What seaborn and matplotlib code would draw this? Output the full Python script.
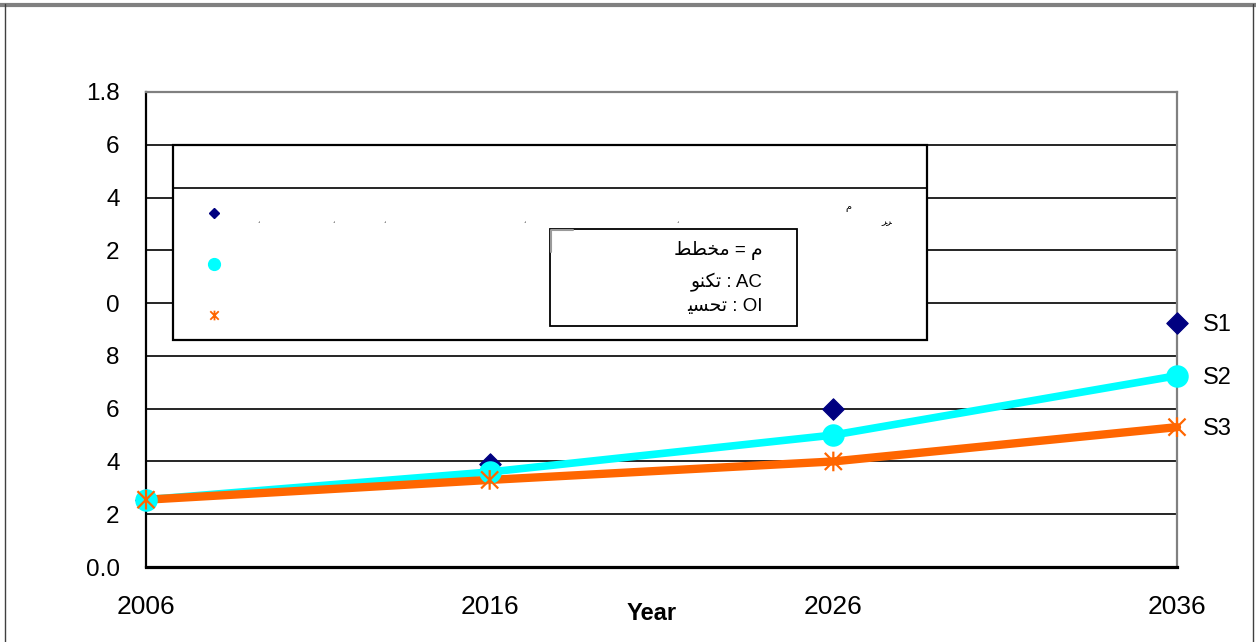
import matplotlib
matplotlib.use("Agg")
import matplotlib.pyplot as plt
from matplotlib.path import Path
from matplotlib.lines import Line2D
from matplotlib.patches import Rectangle
import seaborn as sns

# ---- data -------------------------------------------------------------
years = [2006, 2016, 2026, 2036]
s1 = [0.255, 0.39, 0.60, 0.925]
s2 = [0.255, 0.36, 0.50, 0.725]
s3 = [0.255, 0.33, 0.40, 0.53]
series_names = ["S1", "S2", "S3"]

y_ticks = [0.0, 0.2, 0.4, 0.6, 0.8, 1.0, 1.2, 1.4, 1.6, 1.8]
y_tick_labels = ["0.0", "2", "4", "6", "8", "0", "2", "4", "6", "1.8"]
x_tick_labels = ["2006", "2016", "2026", "2036"]
x_title = "Year"

# key text (Arabic written in shaped presentation forms, visual order)
key_lines = [
    "\uFEC2\uFEC4\uFEA8\uFEE3 = \uFEE1",   # م = مخطط
    "\uFEEE\uFEE8\uFEDC\uFE97 : AC",        # AC : تكنو
    "\uFEF4\uFEB4\uFEA4\uFE97 : OI",        # OI : تحسي
]

# ---- style ------------------------------------------------------------
sns.set_style("white")
plt.rcParams["font.family"] = ["Liberation Sans", "DejaVu Sans"]
plt.rcParams["text.color"] = "black"
plt.rcParams["axes.labelcolor"] = "black"
plt.rcParams["xtick.color"] = "black"
plt.rcParams["ytick.color"] = "black"

NAVY = "#000080"
CYAN = "#00FFFF"
ORANGE = "#FF6600"
GREY = "#808080"

W, H = 1256, 642
fig = plt.figure(figsize=(W / 100, H / 100), dpi=100)
fig.patch.set_facecolor("white")


def fx(px):
    return px / W


def fy(py):
    return 1 - py / H


ax = fig.add_axes([fx(146), fy(567), fx(1177) - fx(146), fy(92) - fy(567)])
ax.set_facecolor("white")

# asterisk marker: an X with a vertical bar
star = Path(
    [(-1, -1), (1, 1), (-1, 1), (1, -1), (0, -1.15), (0, 1.15)],
    [Path.MOVETO, Path.LINETO, Path.MOVETO, Path.LINETO, Path.MOVETO, Path.LINETO],
)

# S1 markers sit underneath the lines
sns.scatterplot(x=years, y=s1, marker="D", s=118, color=NAVY,
                edgecolor=NAVY, ax=ax, zorder=3.5, clip_on=False)

# lines (S1 is markers only)
sns.lineplot(x=years, y=s2, color=CYAN, linewidth=5.5, ax=ax, zorder=4,
             clip_on=False, solid_capstyle="round")
sns.lineplot(x=years, y=s3, color=ORANGE, linewidth=6, ax=ax, zorder=5,
             clip_on=False, solid_capstyle="round")

# markers
sns.scatterplot(x=years, y=s2, marker="o", s=225, color=CYAN,
                edgecolor=CYAN, ax=ax, zorder=6, clip_on=False)
sns.scatterplot(x=years, y=s3, marker=star, s=200, facecolor="none",
                edgecolor=ORANGE, linewidths=1.6, ax=ax, zorder=7,
                clip_on=False)

# series names next to the last points
for name, vals in zip(series_names, [s1, s2, s3]):
    ax.annotate(name, xy=(years[-1], vals[-1]), xytext=(26, -2),
                textcoords="offset pixels", ha="left", va="center",
                fontsize=17, color="black", annotation_clip=False)

# axes
ax.set_xlim(years[0], years[-1])
ax.set_ylim(y_ticks[0], y_ticks[-1])
ax.set_xticks(years)
ax.set_xticklabels(x_tick_labels)
ax.set_yticks(y_ticks)
ax.set_yticklabels(y_tick_labels)
ax.tick_params(axis="x", direction="inout", length=12, width=1,
               color="black", labelcolor="black", labelsize=19, pad=14)
ax.tick_params(axis="y", direction="out", length=7, width=1.2,
               color="black", labelcolor="black", labelsize=17.5, pad=12)
ax.grid(axis="y", color="black", linewidth=1.2, zorder=1)
ax.grid(axis="x", visible=False)
ax.set_axisbelow(True)

ax.spines["left"].set_color("black")
ax.spines["left"].set_linewidth(1.6)
ax.spines["bottom"].set_color("black")
ax.spines["bottom"].set_linewidth(2.3)
ax.spines["top"].set_color(GREY)
ax.spines["top"].set_linewidth(1.6)
ax.spines["right"].set_color(GREY)
ax.spines["right"].set_linewidth(1.6)
for sp in ax.spines.values():
    sp.set_zorder(3)

ax.set_xlabel(x_title, fontsize=17, fontweight="bold", color="black")
ax.xaxis.set_label_coords((652 - 146) / 1031, -(602 - 567) / 475)
ax.set_ylabel("")

# ---- key box ----------------------------------------------------------
fig.add_artist(Rectangle((fx(173), fy(340)), fx(927) - fx(173), fy(145) - fy(340),
                         transform=fig.transFigure, facecolor="white",
                         edgecolor="black", linewidth=1.6, zorder=10))
fig.add_artist(Line2D([fx(173), fx(927)], [fy(188), fy(188)],
                      transform=fig.transFigure, color="black",
                      linewidth=1.2, zorder=11))

key_x = fx(214)
fig.add_artist(Line2D([key_x], [fy(213)], transform=fig.transFigure,
                      marker="D", markersize=5.5, color=NAVY, linestyle="none",
                      zorder=12))
fig.add_artist(Line2D([key_x], [fy(264)], transform=fig.transFigure,
                      marker="o", markersize=8.5, color=CYAN, linestyle="none",
                      zorder=12))
fig.add_artist(Line2D([key_x], [fy(315)], transform=fig.transFigure,
                      marker=star, markersize=7, color=ORANGE,
                      markeredgewidth=1.3, fillstyle="none", linestyle="none",
                      zorder=12))

# faint remnants of the key's first line
for px, ch in [(258, "\u060C"), (333, "\u060C"), (384, "\u060C"),
               (524, "\u060C"), (677, "\u060C")]:
    fig.text(fx(px), fy(222), ch, fontsize=5, color="#333333",
             ha="center", va="center", zorder=12)
fig.text(fx(848), fy(207), "\uFEE1", fontsize=7, color="black",
         ha="center", va="center", zorder=12,
         family=["DejaVu Sans"])
fig.text(fx(887), fy(221), "\uFEAE\uFEAE", fontsize=7, color="black",
         ha="center", va="center", zorder=12,
         family=["DejaVu Sans"])

# inner explanation box
fig.add_artist(Rectangle((fx(550), fy(326)), fx(797) - fx(550), fy(229) - fy(326),
                         transform=fig.transFigure, facecolor="white",
                         edgecolor="black", linewidth=1.3, zorder=12))
fig.add_artist(Line2D([fx(551), fx(551), fx(573)], [fy(252), fy(230), fy(230)],
                      transform=fig.transFigure, color="#9a9a9a",
                      linewidth=1.5, zorder=13))
for py, txt in zip([251, 282, 307], key_lines):
    fig.text(fx(763), fy(py), txt, fontsize=13.5, color="black",
             ha="right", va="center", zorder=13,
             family=["Liberation Sans", "DejaVu Sans"])

# ---- outer frame ------------------------------------------------------
fig.add_artist(Line2D([0, 1], [fy(4.5), fy(4.5)], transform=fig.transFigure,
                      color=GREY, linewidth=3, zorder=20))
fig.add_artist(Line2D([fx(5), fx(5)], [fy(4), 0], transform=fig.transFigure,
                      color="#404040", linewidth=1, zorder=20))
fig.add_artist(Line2D([fx(1252.5), fx(1252.5)], [fy(4), 0],
                      transform=fig.transFigure, color="#404040",
                      linewidth=1, zorder=20))

fig.savefig("out.png", dpi=100, facecolor="white")
